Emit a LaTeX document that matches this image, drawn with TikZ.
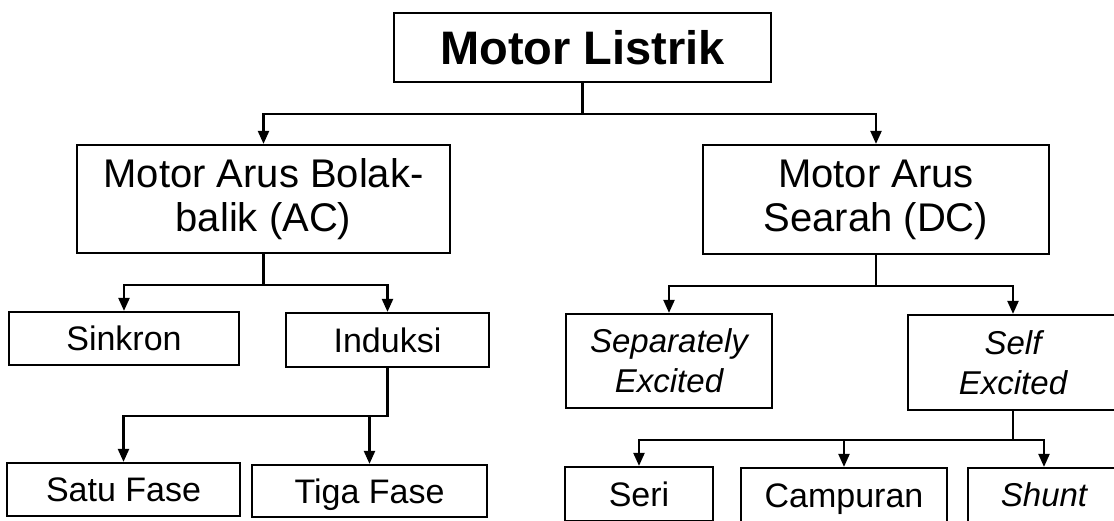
\documentclass[tikz,border=0pt]{standalone}
\usepackage{fontspec}
\setmainfont{Liberation Sans}
\usetikzlibrary{arrows.meta}
\begin{document}
\begin{tikzpicture}[x=1pt,y=-1pt,
  box/.style={draw, line width=2.2pt, inner sep=0pt, align=center},
  bigtxt/.style={font=\fontsize{40}{44}\selectfont},
  midtxt/.style={font=\fontsize{34}{40}\selectfont},
  midone/.style={midtxt, text height=24.5pt, text depth=0pt},
  ittxt/.style={font=\fontsize{33}{40}\selectfont\itshape},
  itone/.style={ittxt, text height=23.8pt, text depth=0pt},
  conn/.style={line width=2.2pt, -{Triangle[length=13pt,width=11pt]}}]
\clip (0,0) rectangle (1114,521);
\fill[white] (0,0) rectangle (1114,521);
% nodes
\node[box, font=\fontsize{47}{52}\selectfont\bfseries, text height=34pt, text depth=0pt, minimum width=377pt, minimum height=69pt] (title) at (582.5,47.5) {Motor Listrik};
\node[box, bigtxt, minimum width=373pt, minimum height=108pt] (ac) at (263.5,199) {Motor Arus Bolak-\\balik (AC)};
\node[box, bigtxt, minimum width=346pt, minimum height=109pt] (dc) at (876,199.5) {Motor Arus\\Searah (DC)};
\node[box, midone, minimum width=230pt, minimum height=53pt] (sink) at (124,338.5) {Sinkron};
\node[box, midone, minimum width=203pt, minimum height=54pt] (ind) at (387.5,340) {Induksi};
\node[box, midone, minimum width=233pt, minimum height=53pt] (satu) at (123.5,489.5) {Satu Fase};
\node[box, midone, minimum width=235pt, minimum height=52pt] (tiga) at (369.5,491) {Tiga Fase};
\node[box, ittxt, minimum width=206pt, minimum height=94pt] (sep) at (669,361) {Separately\\Excited};
\node[box, ittxt, minimum width=210pt, minimum height=95pt] (self) at (1013,362.5) {Self\\Excited};
\node[box, midone, minimum width=148pt, minimum height=54pt] (seri) at (639,494) {Seri};
\node[box, midone, minimum width=206pt, minimum height=54pt] (camp) at (844,495) {Campuran};
\node[box, itone, minimum width=152pt, minimum height=54pt] (shunt) at (1044,495) {Shunt};
% connectors
\draw[conn] (title.south) -- ++(0,31) -| (ac.north);
\draw[conn] (title.south) -- ++(0,31) -| (dc.north);
\draw[conn] (ac.south) -- ++(0,31) -| (sink.north);
\draw[conn] (ac.south) -- ++(0,31) -| (ind.north);
\draw[conn] (dc.south) -- ++(0,31) -| (sep.north);
\draw[conn] (dc.south) -- ++(0,31) -| (self.north);
\draw[conn] (ind.south) -- ++(0,48) -| (satu.north);
\draw[conn] (ind.south) -- ++(0,48) -| (tiga.north);
\draw[conn] (self.south) -- ++(0,29) -| (seri.north);
\draw[conn] (self.south) -- ++(0,29) -| (camp.north);
\draw[conn] (self.south) -- ++(0,29) -| (shunt.north);
\end{tikzpicture}
\end{document}
